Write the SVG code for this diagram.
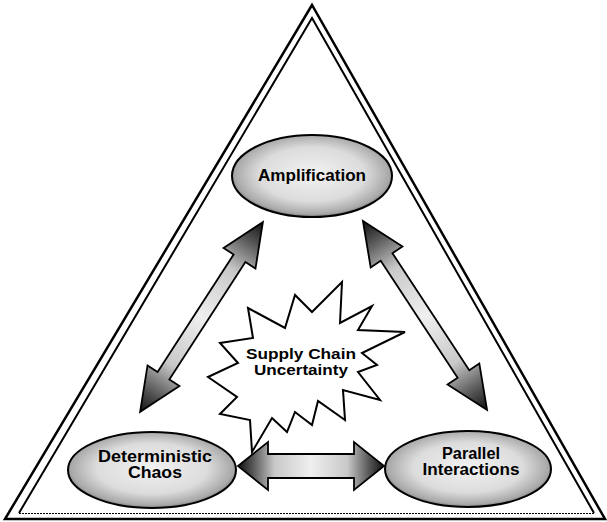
<svg xmlns="http://www.w3.org/2000/svg" width="607" height="522" viewBox="0 0 607 522">
  <style>
    .frame { fill: none; stroke: #000; stroke-linejoin: miter; }
    .node { stroke: #000; stroke-width: 2; fill: url(#nodeFill); }
    .label { font-family: "Liberation Sans", Arial, sans-serif; font-weight: bold; font-size: 16px; fill: #000; text-anchor: middle; }
    .small { font-size: 15px; }
    .arrow { stroke: #000; stroke-width: 1.8; stroke-linejoin: miter; }
    .burst { fill: #fff; stroke: #000; stroke-width: 2; stroke-linejoin: miter; }
  </style>
  <defs>
    <radialGradient id="nodeFill" cx="50%" cy="48%" r="55%">
      <stop offset="0" stop-color="#f2f2f2"/>
      <stop offset="0.6" stop-color="#dcdcdc"/>
      <stop offset="0.88" stop-color="#a8a8a8"/>
      <stop offset="1" stop-color="#555"/>
    </radialGradient>
    <linearGradient id="arrowFill" x1="0" y1="0" x2="1" y2="0">
      <stop offset="0" stop-color="#111"/>
      <stop offset="0.1" stop-color="#555"/>
      <stop offset="0.25" stop-color="#c8c8c8"/>
      <stop offset="0.5" stop-color="#efefef"/>
      <stop offset="0.75" stop-color="#c8c8c8"/>
      <stop offset="0.9" stop-color="#555"/>
      <stop offset="1" stop-color="#111"/>
    </linearGradient>
    <!-- double-headed block arrow, centred on the origin, pointing along x -->
    <path id="diagArrow" d="M -113 0 L -70 -19 L -70 -7 L 70 -7 L 70 -19 L 113 0 L 70 19 L 70 7 L -70 7 L -70 19 Z"/>
  </defs>

  <rect width="607" height="522" fill="#fff"/>

  <!-- double-lined triangular frame -->
  <g id="frame">
    <polygon class="frame" stroke-width="2.5" points="312,5 5,519 605,519"/>
    <polyline class="frame" stroke-width="2" points="19,513 312,18 594,513"/>
    <line x1="19" y1="513.5" x2="594" y2="513.5" stroke="#000" stroke-width="1" stroke-dasharray="2 1"/>
  </g>

  <g id="connectors">
    <use href="#diagArrow" class="arrow" fill="url(#arrowFill)" transform="translate(201.5 317) rotate(-57.1)"/>
    <use href="#diagArrow" class="arrow" fill="url(#arrowFill)" transform="translate(425 315.5) rotate(56.7)"/>
    <path class="arrow" fill="url(#arrowFill)" transform="translate(311 466)" d="M -73 0 L -43 -24 L -43 -12 L 43 -12 L 43 -24 L 73 0 L 43 24 L 43 12 L -43 12 L -43 24 Z"/>
  </g>

  <g id="amplification">
    <ellipse class="node" cx="312" cy="176" rx="80" ry="41"/>
    <text class="label" x="312" y="181" textLength="108" lengthAdjust="spacingAndGlyphs">Amplification</text>
  </g>

  <g id="deterministic-chaos">
    <ellipse class="node" cx="152" cy="470" rx="84" ry="38"/>
    <text class="label" x="155" y="462" textLength="114" lengthAdjust="spacingAndGlyphs">Deterministic</text>
    <text class="label" x="155" y="478" textLength="54" lengthAdjust="spacingAndGlyphs">Chaos</text>
  </g>

  <g id="parallel-interactions">
    <ellipse class="node" cx="468" cy="469" rx="83" ry="38"/>
    <text class="label" x="471" y="459" textLength="58" lengthAdjust="spacingAndGlyphs">Parallel</text>
    <text class="label" x="471" y="475" textLength="97" lengthAdjust="spacingAndGlyphs">Interactions</text>
  </g>

  <g id="supply-chain-uncertainty">
    <polygon class="burst" points="248,308 285,328 295,295 312,312 342,282 340,323 372,306 358,330 405,332 362,353 377,365 358,372 380,400 343,390 345,420 318,401 312,425 295,412 287,432 272,418 252,452 250,420 220,414 237,397 208,377 238,363 220,343 253,338"/>
    <text class="label small" x="301" y="359" textLength="110" lengthAdjust="spacingAndGlyphs">Supply Chain</text>
    <text class="label small" x="301" y="375" textLength="94" lengthAdjust="spacingAndGlyphs">Uncertainty</text>
  </g>
</svg>
